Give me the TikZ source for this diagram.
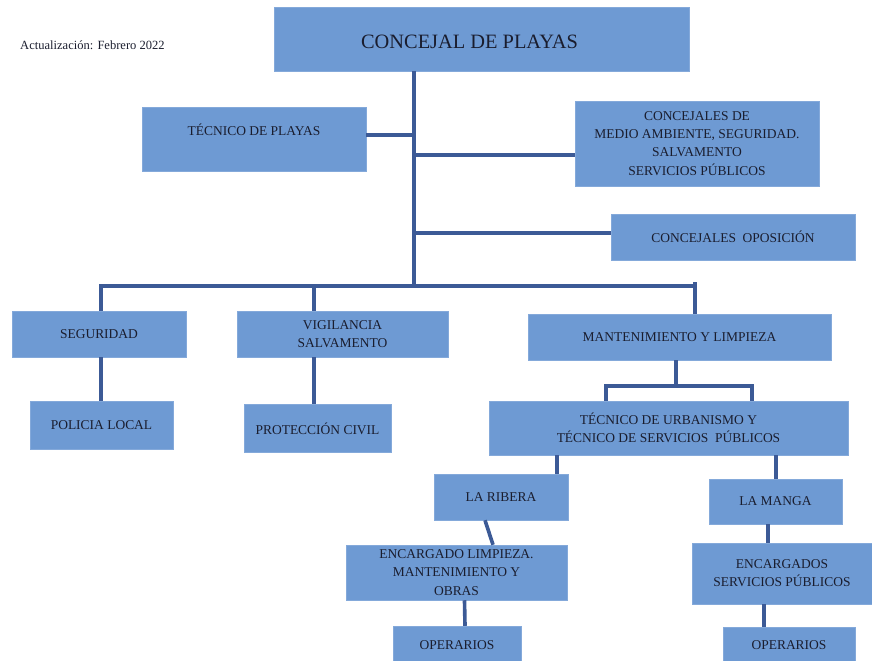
\documentclass[tikz,border=0pt]{standalone}
\usepackage{fontspec}
\setmainfont{Liberation Serif}
\usepackage{tikz}
\usetikzlibrary{calc}

\definecolor{boxblue}{HTML}{6E9AD3}
\definecolor{linkblue}{HTML}{3C5A96}
\definecolor{inkdark}{HTML}{1A1D2E}
\def\pxu{0.03cm}

\begin{document}
\begin{tikzpicture}[x=\pxu, y=-\pxu,
  box/.style={rectangle, fill=boxblue, draw=boxblue!85!white, inner sep=1pt, align=center, text=inkdark, font=\fontsize{11.5}{15.5}\selectfont},
  wh/.style 2 args={minimum width=#1*\pxu, minimum height=#2*\pxu},
  link/.style={draw=linkblue, line width=3.1pt}]
\clip (0,0) rectangle (872,660);
\node (upd) at (20,45) [anchor=west, inner sep=0pt, text=inkdark, font=\fontsize{10.7}{12}\selectfont] {Actualización: Febrero 2022};
\node (top) at (481.5,39) [box, wh={415}{64}, text height=19*\pxu, font=\fontsize{17.4}{19}\selectfont] {CONCEJAL DE PLAYAS\hspace*{0.72cm}};
\node (tec) at (254,139) [box, wh={224}{64}, text depth=18*\pxu] {TÉCNICO DE PLAYAS};
\node (medio) at (697,143.5) [box, wh={244}{85}] {CONCEJALES DE\\MEDIO AMBIENTE, SEGURIDAD.\\SALVAMENTO\\SERVICIOS PÚBLICOS};
\node (opos) at (733,237) [box, wh={244}{46}] {CONCEJALES\ \ OPOSICIÓN};
\node (seg) at (99,334) [box, wh={174}{46}] {SEGURIDAD};
\node (vig) at (342.5,334) [box, wh={211}{46}] {VIGILANCIA\\SALVAMENTO};
\node (mant) at (679.5,337) [box, wh={303}{46}] {MANTENIMIENTO Y LIMPIEZA};
\node (pol) at (101.5,425) [box, wh={143}{48}] {POLICIA LOCAL};
\node (prot) at (317.5,428) [box, wh={147}{48}, text height=14*\pxu] {PROTECCIÓN CIVIL};
\node (urb) at (668.5,428) [box, wh={359}{54}] {TÉCNICO DE URBANISMO Y\\TÉCNICO DE SERVICIOS\ \ PÚBLICOS};
\node (rib) at (501,497) [box, wh={134}{46}] {LA RIBERA};
\node (manga) at (775.5,501.5) [box, wh={133}{45}] {LA MANGA};
\node (enc) at (456.5,572.5) [box, wh={221}{55}] {ENCARGADO LIMPIEZA.\\MANTENIMIENTO Y\\OBRAS};
\node (encs) at (782,573.5) [box, wh={180}{61}] {ENCARGADOS\\SERVICIOS PÚBLICOS};
\node (opl) at (457,645) [box, wh={128}{38}] {OPERARIOS};
\node (opr) at (789,645.5) [box, wh={132}{37}] {OPERARIOS};
\coordinate (trunk) at (414,286);
\coordinate (bl) at (101,286);
\coordinate (vx) at (314,286);
\coordinate (br) at (695,286);
\coordinate (mj) at (676,386);
\coordinate (ml) at (606,386);
\coordinate (mr) at (752,386);
\coordinate (rx) at (557,465);
\coordinate (mx) at (776,465);
\coordinate (lx) at (768,535);
\coordinate (ox) at (764,615);
\draw[link] (top.south -| trunk) -- (trunk);
\draw[link] ([yshift=4*\pxu]tec.east) -- ([yshift=4*\pxu]tec.east -| trunk);
\draw[link] ([yshift=-11.5*\pxu]medio.west) -- ([yshift=-11.5*\pxu]medio.west -| trunk);
\draw[link] ([yshift=4*\pxu]opos.west) -- ([yshift=4*\pxu]opos.west -| trunk);
\draw[link] (seg.north -| bl) -- (bl) -- (br) -- (mant.north -| br);
\draw[link] (mant.north -| br) -- ([yshift=4*\pxu]br);
\draw[link] (vx) -- (vig.north -| vx);
\draw[link] (seg.south -| bl) -- (pol.north -| bl);
\draw[link] (vig.south -| vx) -- (prot.north -| vx);
\draw[link] (mant.south -| mj) -- (mj);
\draw[link] (urb.north -| ml) -- (ml) -- (mr) -- (urb.north -| mr);
\draw[link] (urb.south -| rx) -- (rib.north -| rx);
\draw[link] (urb.south -| mx) -- (manga.north -| mx);
\draw[link] ([xshift=-16*\pxu]rib.south) -- ([xshift=36.5*\pxu]enc.north);
\draw[link] (manga.south -| lx) -- (encs.north -| lx);
\draw[link] ([xshift=8*\pxu]enc.south) -- ([xshift=8*\pxu]opl.north);
\draw[link] (encs.south -| ox) -- (opr.north -| ox);
\end{tikzpicture}
\end{document}
